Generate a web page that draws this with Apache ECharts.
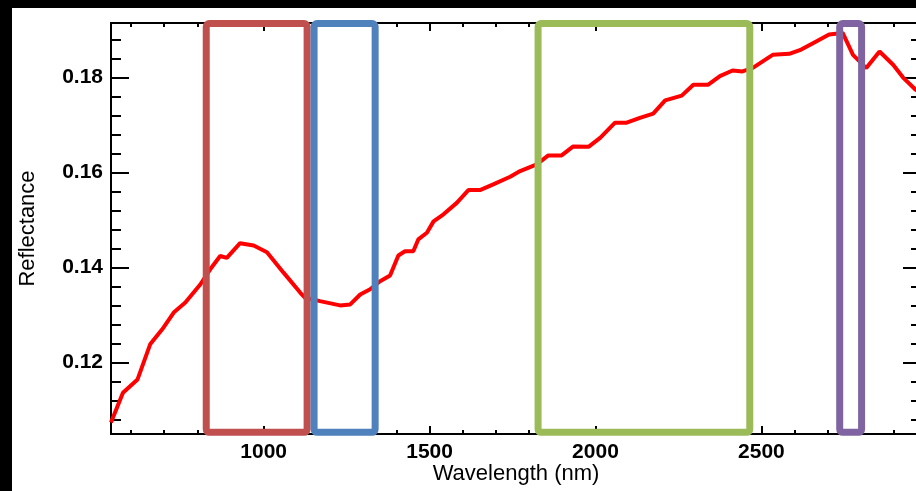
<!DOCTYPE html>
<html>
<head>
<meta charset="utf-8">
<script src="https://cdn.jsdelivr.net/npm/echarts@6/dist/echarts.min.js"></script>
<style>
  html, body { margin: 0; padding: 0; background: #000; width: 916px; height: 491px; overflow: hidden; }
  #chart { position: absolute; left: 12px; top: 8px; width: 904px; height: 483px; background: #fff; }
</style>
</head>
<body>
<div id="chart"></div>
<script>
// Spectrum samples: wavelength (nm) and reflectance
const wavelength = [540, 576, 620, 658, 698, 729, 764, 809, 839, 869, 889, 929, 970, 1010, 1060, 1110,
  1125, 1170, 1230, 1261, 1291, 1321, 1351, 1381, 1406, 1426, 1451, 1466, 1492, 1512, 1542, 1582,
  1617, 1652, 1692, 1743, 1773, 1823, 1858, 1898, 1933, 1979, 2014, 2059, 2094, 2134, 2174, 2210,
  2260, 2295, 2340, 2375, 2413, 2443, 2473, 2534, 2584, 2620, 2654, 2704, 2745, 2776, 2816, 2856,
  2897, 2927, 2964, 2980];
const reflectance = [0.1073, 0.1136, 0.1164, 0.1238, 0.1273, 0.1305, 0.1326, 0.1364, 0.1396, 0.1424,
  0.1420, 0.1451, 0.1446, 0.1432, 0.1389, 0.1347, 0.1336, 0.1329, 0.1320, 0.1322, 0.1343, 0.1354,
  0.1371, 0.1383, 0.1425, 0.1434, 0.1434, 0.1459, 0.1473, 0.1497, 0.1512, 0.1536, 0.1563, 0.1563,
  0.1575, 0.1591, 0.1603, 0.1617, 0.1636, 0.1636, 0.1655, 0.1654, 0.1673, 0.1705, 0.1705, 0.1715,
  0.1724, 0.1752, 0.1762, 0.1785, 0.1785, 0.1803, 0.1815, 0.1813, 0.1820, 0.1848, 0.1850, 0.1859,
  0.1872, 0.1891, 0.1894, 0.1848, 0.1820, 0.1855, 0.1827, 0.1800, 0.1775, 0.1768];

// Highlighted wavelength windows [start, end] and their outline colours
const bandStart = [827, 1152, 1827, 2736];
const bandEnd = [1131, 1336, 2465, 2802];
const bandColors = ['#c0504d', '#4f81bd', '#9bbb59', '#8064a2'];

// Axis ranges and tick labels
const xRange = [540, 2981];
const yRange = [0.1049, 0.1915];
const xMajorTicks = [1000, 1500, 2000, 2500];
const yMajorTicks = [0.12, 0.14, 0.16, 0.18];

const xMinorTicks = [];
for (let v = 600; v < xRange[1]; v += 100) if (v % 500 !== 0) xMinorTicks.push(v);
const yMinorTicks = [];
for (let i = 27; i * 0.004 < yRange[1]; i++) {
  const v = Math.round(i * 4) / 1000;
  if (Math.round(v * 1000) % 20 !== 0) yMinorTicks.push(v);
}

const FONT = 'Liberation Sans, Arial, Helvetica, sans-serif';
const tickLine = { color: '#000', width: 2 };
const tickLabel = { color: '#000', fontSize: 21, fontWeight: 'bold', fontFamily: FONT };

function xAxis(pos, ticks, len, withLabels) {
  return {
    type: 'value', position: pos, min: xRange[0], max: xRange[1],
    axisLine: { show: true, onZero: false, lineStyle: { color: '#000', width: 2 } },
    axisTick: { show: true, inside: true, length: len, lineStyle: tickLine, customValues: ticks },
    axisLabel: withLabels
      ? Object.assign({ show: true, customValues: ticks, margin: 8, formatter: v => String(v) }, tickLabel)
      : { show: false },
    splitLine: { show: false }
  };
}
function yAxis(pos, ticks, len, withLabels) {
  return {
    type: 'value', position: pos, min: yRange[0], max: yRange[1],
    axisLine: { show: true, onZero: false, lineStyle: { color: '#000', width: 2 } },
    axisTick: { show: true, inside: true, length: len, lineStyle: tickLine, customValues: ticks },
    axisLabel: withLabels
      ? Object.assign({ show: true, customValues: ticks, margin: 8, formatter: v => v.toFixed(2) }, tickLabel)
      : { show: false },
    splitLine: { show: false }
  };
}

const xAxes = [
  Object.assign(xAxis('bottom', xMajorTicks, 8, true), {
    name: 'Wavelength (nm)', nameLocation: 'middle', nameGap: 29, nameMoveOverlap: false,
    nameTextStyle: { color: '#000', fontSize: 22, fontFamily: FONT }
  }),
  xAxis('bottom', xMinorTicks, 4, false),
  xAxis('top', xMajorTicks, 8, false),
  xAxis('top', xMinorTicks, 4, false)
];
const yAxes = [
  Object.assign(yAxis('left', yMajorTicks, 18, true), {
    name: 'Reflectance', nameLocation: 'middle', nameGap: 72, nameMoveOverlap: false,
    nameTextStyle: { color: '#000', fontSize: 22, fontFamily: FONT }
  }),
  yAxis('left', yMinorTicks, 10, false),
  yAxis('right', yMajorTicks, 18, false),
  yAxis('right', yMinorTicks, 10, false)
];

const bandData = bandStart.map((s, i) => [s, bandEnd[i], i]);

const chart = echarts.init(document.getElementById('chart'));
chart.setOption({
  animation: false,
  backgroundColor: '#fff',
  grid: { left: 99, top: 15, right: -5, bottom: 57, outerBoundsMode: 'none' },
  xAxis: xAxes,
  yAxis: yAxes,
  series: [
    {
      type: 'line',
      xAxisIndex: 0, yAxisIndex: 0,
      data: wavelength.map((w, i) => [w, reflectance[i]]),
      symbol: 'none',
      lineStyle: { color: '#ff0000', width: 4 },
      z: 2
    },
    {
      type: 'custom',
      xAxisIndex: 0, yAxisIndex: 0,
      data: bandData,
      encode: { x: [0, 1] },
      z: 5,
      renderItem: function (params, api) {
        const top = api.coord([api.value(0), 0.19137]);
        const bottom = api.coord([api.value(1), 0.10526]);
        return {
          type: 'rect',
          shape: { x: top[0], y: top[1], width: bottom[0] - top[0], height: bottom[1] - top[1], r: 3 },
          style: { fill: 'none', stroke: bandColors[api.value(2)], lineWidth: 7 }
        };
      }
    }
  ]
});
</script>
</body>
</html>
